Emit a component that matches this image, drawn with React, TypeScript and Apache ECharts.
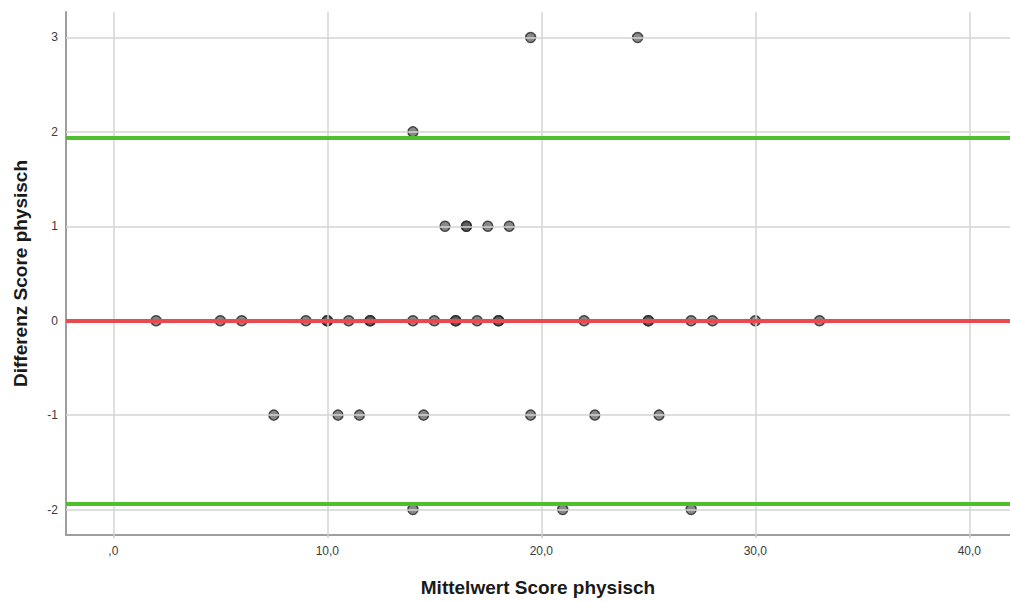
import React, { useEffect, useRef } from "react";
import * as echarts from "echarts";

const xTicks = [0, 10, 20, 30, 40];
const yTicks = [-2, -1, 0, 1, 2, 3];
const meanDiff = 0;
const upperLoA = 1.94;
const lowerLoA = -1.94;

// [Mittelwert, Differenz]
const points: [number, number][] = [
  [19.5, 3], [24.5, 3],
  [14, 2],
  [15.5, 1], [16.5, 1], [16.5, 1], [17.5, 1], [18.5, 1],
  [2, 0], [5, 0], [6, 0], [9, 0], [10, 0], [10, 0], [11, 0], [12, 0], [12, 0], [14, 0], [15, 0],
  [16, 0], [16, 0], [17, 0], [18, 0], [18, 0], [22, 0], [25, 0], [25, 0], [27, 0], [28, 0], [30, 0], [33, 0],
  [7.5, -1], [10.5, -1], [11.5, -1], [14.5, -1], [19.5, -1], [22.5, -1], [25.5, -1],
  [14, -2], [21, -2], [27, -2],
];

const xTitle = "Mittelwert Score physisch";
const yTitle = "Differenz Score physisch";

export default function App() {
  const ref = useRef<HTMLDivElement>(null);
  useEffect(() => {
    if (!ref.current) return;
    const chart = echarts.init(ref.current, undefined, { renderer: "svg" });
    const fmtX = (v: number) => (v === 0 ? ",0" : v.toFixed(1).replace(".", ","));
    chart.setOption({
      animation: false,
      backgroundColor: "#ffffff",
      grid: { left: 66, right: 0, top: 12, bottom: 64 },
      xAxis: {
        type: "value",
        min: -2.21,
        max: 41.9,
        name: xTitle,
        nameLocation: "middle",
        nameGap: 43,
        nameTextStyle: { fontFamily: "Liberation Sans", fontSize: 19, fontWeight: "bold", color: "#1a1a1a" },
        axisLine: { show: true, onZero: false, lineStyle: { color: "#9e9e9e", width: 2 } },
        axisTick: { show: true, customValues: xTicks, length: 3, lineStyle: { color: "#c8c8c8", width: 1.5 } },
        axisLabel: {
          customValues: xTicks,
          formatter: fmtX,
          fontFamily: "Liberation Sans",
          fontSize: 12,
          color: "#3a3a3a",
          margin: 10,
        },
        splitLine: { show: false },
      },
      yAxis: {
        type: "value",
        min: -2.27,
        max: 3.27,
        name: yTitle,
        nameLocation: "middle",
        nameGap: 36,
        nameRotate: 90,
        nameTextStyle: { fontFamily: "Liberation Sans", fontSize: 19, fontWeight: "bold", color: "#1a1a1a" },
        axisLine: { show: true, onZero: false, lineStyle: { color: "#9e9e9e", width: 2 } },
        axisTick: { show: false },
        axisLabel: {
          customValues: yTicks,
          formatter: (v: number) => String(v),
          fontFamily: "Liberation Sans",
          fontSize: 12,
          color: "#3a3a3a",
          margin: 8,
        },
        splitLine: { show: false },
      },
      series: [
        {
          type: "line",
          data: [],
          z: 1,
          silent: true,
          markLine: {
            silent: true,
            symbol: "none",
            label: { show: false },
            lineStyle: { color: "#d4d4d4", width: 1.5, type: "solid" },
            data: [
              ...xTicks.map((v) => ({ xAxis: v })),
              ...yTicks.map((v) => ({ yAxis: v })),
            ],
          },
        },
        {
          type: "line",
          data: [],
          z: 2,
          silent: true,
          markLine: {
            silent: true,
            symbol: "none",
            label: { show: false },
            data: [
              { yAxis: upperLoA, lineStyle: { color: "#4fbf2e", width: 4, type: "solid" } },
              { yAxis: lowerLoA, lineStyle: { color: "#4fbf2e", width: 4, type: "solid" } },
              { yAxis: meanDiff, lineStyle: { color: "#ea4a4f", width: 4, type: "solid" } },
            ],
          },
        },
        {
          type: "scatter",
          z: 3,
          data: points,
          symbol: "circle",
          symbolSize: 10,
          itemStyle: {
            color: "rgba(70,70,70,0.8)",
            borderColor: "#262626",
            borderWidth: 1.5,
          },
        },
      ],
    });
    return () => chart.dispose();
  }, []);
  return (
    <div
      ref={ref}
      style={{ position: "fixed", left: 0, top: 0, width: 1010, height: 602 }}
    />
  );
}
